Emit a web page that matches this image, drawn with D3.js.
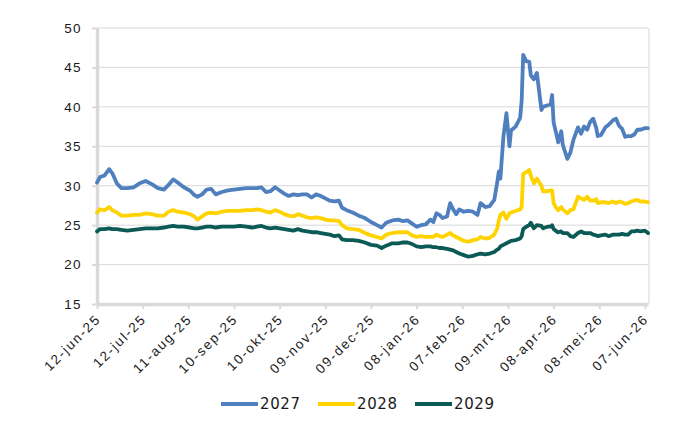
<!DOCTYPE html>
<html lang="nl">
<head>
<meta charset="UTF-8">
<title>2027 / 2028 / 2029</title>
<script src="https://d3js.org/d3.v7.min.js"></script>
<style>
  body { margin: 0; background: #fff; font-family: "DejaVu Sans", sans-serif; }
  .grid line { stroke: #d9d9d9; stroke-width: 1; }
  .tick-label { font-size: 13.5px; fill: #1a1a1a; letter-spacing: 1.4px; }
  .x-label { letter-spacing: 1.8px; }
  .legend text { font-size: 15px; fill: #1a1a1a; letter-spacing: 0.6px; }
  .series { fill: none; stroke-width: 3.8; stroke-linejoin: round; stroke-linecap: round; }
</style>
</head>
<body>
<svg width="700" height="430"></svg>
<script>
// sample dates
const dates = [
  "2025-06-12","2025-06-14","2025-06-17","2025-06-20","2025-06-22","2025-06-25","2025-06-28",
  "2025-07-02","2025-07-06","2025-07-10","2025-07-14","2025-07-18","2025-07-22","2025-07-26","2025-07-29",
  "2025-08-01","2025-08-04","2025-08-08","2025-08-12","2025-08-15","2025-08-17","2025-08-20","2025-08-23","2025-08-26","2025-08-29",
  "2025-09-02","2025-09-06","2025-09-10","2025-09-14","2025-09-18","2025-09-22","2025-09-25","2025-09-28",
  "2025-10-01","2025-10-04","2025-10-07","2025-10-10","2025-10-13","2025-10-16","2025-10-19","2025-10-22","2025-10-25","2025-10-28","2025-10-31",
  "2025-11-03","2025-11-06","2025-11-09","2025-11-12","2025-11-15","2025-11-18","2025-11-20","2025-11-23","2025-11-27",
  "2025-12-01","2025-12-05","2025-12-09","2025-12-13","2025-12-16","2025-12-19","2025-12-23","2025-12-27","2025-12-30",
  "2026-01-02","2026-01-05","2026-01-08","2026-01-11","2026-01-14","2026-01-17","2026-01-19","2026-01-21","2026-01-23","2026-01-25","2026-01-28","2026-01-30",
  "2026-02-01","2026-02-03","2026-02-05","2026-02-08","2026-02-11","2026-02-14","2026-02-17","2026-02-19","2026-02-22","2026-02-25","2026-02-28",
  "2026-03-02","2026-03-03","2026-03-04","2026-03-06","2026-03-08","2026-03-10","2026-03-11","2026-03-14","2026-03-17","2026-03-18","2026-03-19","2026-03-21","2026-03-23","2026-03-24","2026-03-26","2026-03-28","2026-03-31",
  "2026-04-01","2026-04-04","2026-04-06","2026-04-07","2026-04-08","2026-04-10","2026-04-11","2026-04-13","2026-04-14","2026-04-17","2026-04-19","2026-04-21","2026-04-24","2026-04-26","2026-04-28","2026-04-30",
  "2026-05-02","2026-05-04","2026-05-06","2026-05-07","2026-05-09","2026-05-12","2026-05-14","2026-05-17","2026-05-19","2026-05-21","2026-05-23","2026-05-25","2026-05-27","2026-05-29","2026-05-31",
  "2026-06-02","2026-06-04","2026-06-07","2026-06-09"
];

const values2027 = [
  30.4,31.1,31.3,32.1,31.6,30.3,29.7,
  29.7,29.8,30.3,30.6,30.2,29.7,29.5,30.1,
  30.8,30.4,29.8,29.4,28.8,28.6,28.9,29.5,29.6,28.9,
  29.2,29.4,29.5,29.6,29.7,29.7,29.7,29.8,
  29.2,29.3,29.8,29.4,29.0,28.7,28.9,28.8,28.9,28.9,28.5,
  28.9,28.7,28.4,28.1,28.0,28.1,27.2,26.9,26.6,
  26.2,25.9,25.4,25.0,24.7,25.3,25.6,25.7,25.5,
  25.6,25.2,24.8,25.0,25.1,25.7,25.4,26.5,26.3,25.9,26.1,27.8,
  27.0,26.4,27.0,26.7,26.8,26.7,26.3,27.8,27.3,27.4,28.2,
  30.5,31.8,30.9,36.2,39.2,35.0,37.0,37.5,38.6,40.8,46.6,45.8,45.7,44.0,43.5,44.3,39.6,
  40.0,40.2,40.3,41.5,38.0,36.4,35.5,36.9,35.2,33.4,34.2,35.8,37.4,36.6,37.5,37.1,
  38.1,38.5,37.3,36.3,36.4,37.4,37.7,38.3,38.5,37.6,37.2,36.2,36.3,36.3,36.5,
  37.1,37.1,37.3,37.3
];

const values2028 = [
  26.6,27.0,26.9,27.3,26.9,26.6,26.2,
  26.2,26.3,26.3,26.5,26.4,26.2,26.2,26.7,
  26.9,26.7,26.6,26.4,26.1,25.7,26.1,26.5,26.6,26.5,
  26.7,26.8,26.8,26.8,26.9,26.9,27.0,26.9,
  26.7,26.6,26.9,26.7,26.4,26.2,26.1,26.4,26.2,26.0,25.9,
  26.0,25.9,25.7,25.6,25.6,25.5,25.0,24.6,24.5,
  24.4,24.0,23.7,23.5,23.3,23.8,24.0,24.1,24.1,
  24.1,23.7,23.5,23.6,23.5,23.5,23.5,23.8,23.6,23.5,23.8,24.0,
  23.7,23.5,23.3,23.0,22.9,23.1,23.2,23.5,23.3,23.4,23.8,
  24.6,25.6,26.3,26.6,25.8,26.5,26.6,26.8,27.0,27.3,31.5,31.7,32.0,31.3,30.3,30.9,30.0,
  29.3,29.3,29.4,29.4,27.8,27.1,26.9,27.3,27.0,26.5,26.9,27.0,28.6,28.4,28.2,28.6,
  28.1,28.1,28.3,27.8,27.9,27.9,27.8,28.0,27.8,28.0,27.9,27.7,27.8,28.0,28.1,
  28.2,28.0,28.0,27.9
];

const values2029 = [
  24.2,24.5,24.5,24.6,24.5,24.5,24.4,
  24.3,24.4,24.5,24.6,24.6,24.6,24.7,24.8,
  24.9,24.8,24.8,24.7,24.6,24.6,24.7,24.8,24.8,24.7,
  24.8,24.8,24.8,24.9,24.8,24.7,24.8,24.9,
  24.7,24.6,24.7,24.6,24.5,24.4,24.3,24.5,24.3,24.2,24.1,
  24.1,24.0,23.9,23.8,23.6,23.7,23.2,23.1,23.1,
  23.0,22.8,22.5,22.4,22.1,22.4,22.7,22.7,22.8,
  22.8,22.6,22.3,22.2,22.3,22.3,22.2,22.2,22.1,22.1,22.0,21.9,
  21.8,21.6,21.4,21.2,21.0,21.1,21.3,21.4,21.3,21.4,21.6,
  21.9,22.0,22.3,22.5,22.7,22.9,23.0,23.1,23.3,23.6,24.5,24.8,25.0,25.3,24.6,25.0,24.9,
  24.6,24.8,24.8,25.0,24.5,24.2,24.1,24.2,24.0,24.0,23.6,23.5,24.0,24.2,24.0,24.0,
  24.0,23.8,23.7,23.6,23.7,23.8,23.6,23.8,23.8,23.8,23.9,23.8,23.8,24.2,24.2,
  24.3,24.2,24.3,24.0
];

const seriesNames = ["2027", "2028", "2029"];
const seriesColors = ["#4f7fbe", "#ffd300", "#0b5a56"];

const tickDates = ["2025-06-12","2025-07-12","2025-08-11","2025-09-10","2025-10-10","2025-11-09",
  "2025-12-09","2026-01-08","2026-02-07","2026-03-09","2026-04-08","2026-05-08","2026-06-07"];
const tickLabels = ["12-jun-25","12-jul-25","11-aug-25","10-sep-25","10-okt-25","09-nov-25",
  "09-dec-25","08-jan-26","07-feb-26","09-mrt-26","08-apr-26","08-mei-26","07-jun-26"];
const yTicks = [15, 20, 25, 30, 35, 40, 45, 50];

const parse = d3.timeParse("%Y-%m-%d");
const svg = d3.select("svg");
const margin = { top: 28, right: 52, bottom: 126, left: 97 };
const width = 700 - margin.left - margin.right;
const height = 430 - margin.top - margin.bottom;

const x = d3.scaleTime()
  .domain([parse(dates[0]), parse(dates[dates.length - 1])])
  .range([margin.left, margin.left + width]);
const y = d3.scaleLinear().domain([15, 50]).range([margin.top + height, margin.top]);

// gridlines
svg.append("g").attr("class", "grid")
  .selectAll("line").data(yTicks.slice(1)).join("line")
  .attr("x1", margin.left).attr("x2", margin.left + width)
  .attr("y1", d => y(d)).attr("y2", d => y(d));

// right border
svg.append("line")
  .attr("x1", margin.left + width + 1).attr("x2", margin.left + width + 1)
  .attr("y1", margin.top).attr("y2", margin.top + height)
  .attr("stroke", "#e3e3e3").attr("stroke-width", 1.5);

// y axis
const yAxis = svg.append("g")
  .attr("transform", `translate(${margin.left},0)`)
  .call(d3.axisLeft(y).tickValues(yTicks).tickSize(5).tickSizeOuter(0).tickPadding(10));
yAxis.select(".domain").attr("stroke", "#d9d9d9").attr("stroke-width", 3.5);
yAxis.selectAll(".tick line").attr("stroke", "#d9d9d9").attr("stroke-width", 2);
yAxis.selectAll(".tick text").attr("class", "tick-label").attr("font-family", null).attr("font-size", null);

// x axis
const xAxis = svg.append("g")
  .attr("transform", `translate(0,${margin.top + height})`)
  .call(d3.axisBottom(x).tickValues(tickDates.map(parse))
    .tickFormat((d, i) => tickLabels[i]).tickSize(5).tickSizeOuter(0));
xAxis.select(".domain").attr("stroke", "#d9d9d9").attr("stroke-width", 3.5);
xAxis.selectAll(".tick line").attr("stroke", "#d9d9d9").attr("stroke-width", 2);
xAxis.selectAll(".tick text")
  .attr("class", "tick-label x-label").attr("font-family", null).attr("font-size", null)
  .attr("text-anchor", "end")
  .attr("dy", null).attr("y", 0)
  .attr("transform", "translate(4,16) rotate(-45)");

// lines
const series = [values2027, values2028, values2029];
const line = d3.line()
  .x((d, i) => x(parse(dates[i])))
  .y(d => y(d));

svg.append("g").selectAll("path").data(series).join("path")
  .attr("class", "series")
  .attr("stroke", (d, i) => seriesColors[i])
  .attr("d", line);

// legend
const legend = svg.append("g").attr("class", "legend")
  .attr("transform", "translate(221,404)");
const item = legend.selectAll("g").data(seriesNames).join("g")
  .attr("transform", (d, i) => `translate(${i * 97},0)`);
item.append("line")
  .attr("x1", 0).attr("x2", 37).attr("y1", 0).attr("y2", 0)
  .attr("stroke", (d, i) => seriesColors[i]).attr("stroke-width", 4);
item.append("text")
  .attr("x", 39).attr("y", 0).attr("dy", "0.36em")
  .text(d => d);
</script>
</body>
</html>
